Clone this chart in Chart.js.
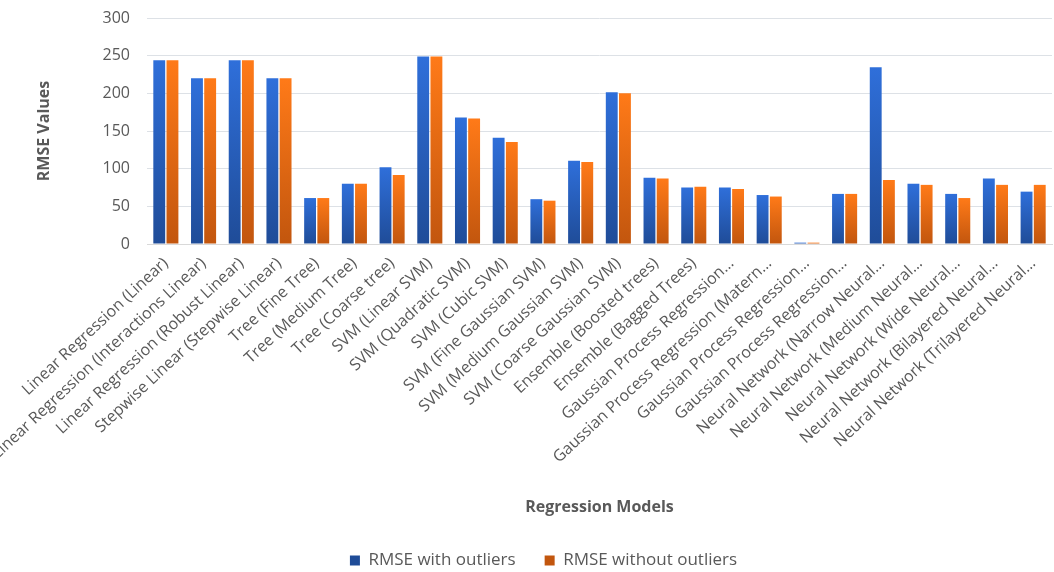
<!DOCTYPE html>
<html>
<head>
<meta charset="utf-8">
<script src="https://cdn.jsdelivr.net/npm/chart.js@4"></script>
<style>
html,body{margin:0;padding:0;background:#fff;}
#wrap{width:1054px;height:572px;position:relative;}
</style>
</head>
<body>
<div id="wrap"><canvas id="c" width="1054" height="572"></canvas></div>
<script>
const categories = [
  "Linear Regression (Linear)",
  "Linear Regression (Interactions Linear)",
  "Linear Regression (Robust Linear)",
  "Stepwise Linear (Stepwise Linear)",
  "Tree (Fine Tree)",
  "Tree (Medium Tree)",
  "Tree (Coarse tree)",
  "SVM (Linear SVM)",
  "SVM (Quadratic SVM)",
  "SVM (Cubic SVM)",
  "SVM (Fine Gaussian SVM)",
  "SVM (Medium Gaussian SVM)",
  "SVM (Coarse Gaussian SVM)",
  "Ensemble (Boosted trees)",
  "Ensemble (Bagged Trees)",
  "Gaussian Process Regression…",
  "Gaussian Process Regression (Matern…",
  "Gaussian Process Regression…",
  "Gaussian Process Regression…",
  "Neural Network (Narrow Neural…",
  "Neural Network (Medium Neural…",
  "Neural Network (Wide Neural…",
  "Neural Network (Bilayered Neural…",
  "Neural Network (Trilayered Neural…"
];
const rmseWithOutliers    = [244, 220, 244, 220, 61, 80, 102, 249, 168, 141, 59.5, 110.5, 201.5, 88, 75, 75, 65, 1.8, 66.5, 234.5, 80, 66.5, 87, 69.5];
const rmseWithoutOutliers = [244, 220, 244, 220, 61, 80, 91.5, 249, 166.5, 135.5, 57.5, 109, 200, 87, 76, 73, 63, 1.8, 66.5, 85, 78.5, 61, 78.5, 78.5];
const yMin = 0, yMax = 300, yStep = 50;

const FONT = "'Open Sans', 'Noto Sans', sans-serif";
const TXT = '#595959';

function barGradient(topCol, botCol, solid) {
  return (ctx) => {
    if (ctx.type !== 'data') return solid;
    const chart = ctx.chart;
    if (!chart.chartArea) return solid;
    const ys = chart.scales.y;
    const v = ctx.raw;
    const yTop = ys.getPixelForValue(v);
    const yBot = ys.getPixelForValue(0);
    if (!isFinite(yTop) || yBot - yTop < 1) return topCol;
    const g = chart.ctx.createLinearGradient(0, yTop, 0, yBot);
    g.addColorStop(0, topCol);
    g.addColorStop(1, botCol);
    return g;
  };
}

new Chart(document.getElementById('c'), {
  type: 'bar',
  data: {
    labels: categories,
    datasets: [
      {
        label: 'RMSE with outliers',
        data: rmseWithOutliers,
        backgroundColor: barGradient('#2F6FDA', '#1F4C98', '#2E62C9'),
        borderWidth: 0,
        categoryPercentage: 0.7,
        barPercentage: 0.9
      },
      {
        label: 'RMSE without outliers',
        data: rmseWithoutOutliers,
        backgroundColor: barGradient('#FF7A18', '#C2560E', '#EC6A12'),
        borderWidth: 0,
        categoryPercentage: 0.7,
        barPercentage: 0.9
      }
    ]
  },
  options: {
    responsive: false,
    animation: false,
    layout: { padding: { top: 18, left: 35, right: 2, bottom: -7 } },
    plugins: {
      tooltip: { enabled: false },
      legend: {
        position: 'bottom',
        labels: {
          font: { family: FONT, size: 17 },
          color: TXT,
          boxWidth: 10,
          boxHeight: 10,
          padding: 29
        }
      }
    },
    scales: {
      x: {
        grid: { display: false },
        border: { display: true, color: '#D9D9D9' },
        ticks: {
          font: { family: FONT, size: 16 },
          color: TXT,
          minRotation: 43,
          maxRotation: 43,
          autoSkip: false,
          padding: 2
        },
        title: {
          display: true,
          text: 'Regression Models',
          font: { family: FONT, size: 16, weight: 'bold' },
          color: TXT,
          padding: { top: 10, bottom: 6 }
        },
        afterFit: (s) => { s.height = 279; }
      },
      y: {
        min: yMin,
        max: yMax,
        border: { display: false },
        grid: { color: '#DDE1E6', drawTicks: false, lineWidth: 1 },
        ticks: {
          stepSize: yStep,
          font: { family: FONT, size: 16 },
          color: TXT,
          padding: 17
        },
        title: {
          display: true,
          text: 'RMSE Values',
          font: { family: FONT, size: 16, weight: 'bold' },
          color: TXT,
          padding: { top: 0, bottom: 30 }
        },
        afterFit: (s) => { s.width = 112; s.paddingTop = 0; s.paddingBottom = 0; }
      }
    }
  }
});
</script>
</body>
</html>
